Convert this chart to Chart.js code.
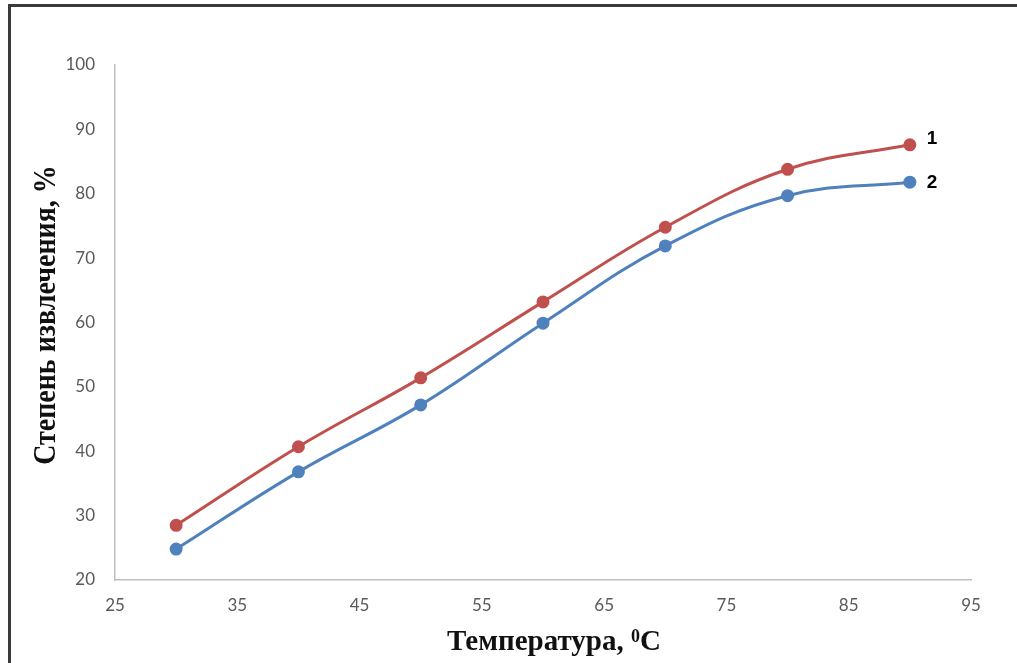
<!DOCTYPE html>
<html>
<head>
<meta charset="utf-8">
<script src="https://cdn.jsdelivr.net/npm/chart.js@4.4.1/dist/chart.umd.min.js"></script>
<style>
  html, body { margin: 0; padding: 0; background: #fff; overflow: hidden; }
  #wrap { position: relative; width: 1017px; height: 663px; }
  #frame { position: absolute; left: 8px; top: 4px; width: 1100px; height: 800px; border: 3px solid #3a3a3a; box-sizing: border-box; pointer-events: none; }
  canvas { position: absolute; left: 0; top: 0; }
</style>
</head>
<body>
<div id="wrap">
  <canvas id="c" width="1017" height="663"></canvas>
  <div id="frame"></div>
</div>
<script>
const temperatures = [30, 40, 50, 60, 70, 80, 90];
const series1 = [28.5, 40.7, 51.4, 63.2, 74.8, 83.8, 87.6];
const series2 = [24.8, 36.8, 47.2, 59.9, 71.9, 79.7, 81.8];
const seriesLabels = ['1', '2'];
const xTicks = [25, 35, 45, 55, 65, 75, 85, 95];
const yTicks = [20, 30, 40, 50, 60, 70, 80, 90, 100];
const xTitle = 'Температура, ';
const xTitleSup = '0';
const xTitleEnd = 'C';
const yTitle = 'Степень извлечения, %';

const toPts = (xs, ys) => xs.map((x, i) => ({ x: x, y: ys[i] }));

const endLabels = {
  id: 'endLabels',
  afterDatasetsDraw(chart) {
    const ctx = chart.ctx;
    ctx.save();
    ctx.font = 'bold 19px "Liberation Sans", Arial, sans-serif';
    ctx.fillStyle = '#000';
    ctx.textAlign = 'left';
    ctx.textBaseline = 'middle';
    const offs = [-6, 1];
    chart.data.datasets.forEach((ds, i) => {
      const meta = chart.getDatasetMeta(i);
      const p = meta.data[meta.data.length - 1];
      ctx.fillText(ds.label, p.x + 17, p.y + offs[i]);
    });
    ctx.restore();
  }
};

const titles = {
  id: 'titles',
  afterDraw(chart) {
    const ctx = chart.ctx;
    ctx.save();
    ctx.fillStyle = '#111';
    // y title
    ctx.font = 'bold 28px "Liberation Serif", "Times New Roman", serif';
    ctx.translate(47, 315);
    ctx.rotate(-Math.PI / 2);
    ctx.scale(1, 1.1);
    ctx.textAlign = 'center';
    ctx.textBaseline = 'middle';
    ctx.fillText(yTitle, 0, 0);
    ctx.restore();
    // x title with superscript
    ctx.save();
    ctx.fillStyle = '#111';
    const big = 'bold 29px "Liberation Serif", "Times New Roman", serif';
    const small = 'bold 18px "Liberation Serif", "Times New Roman", serif';
    ctx.font = big;
    const w1 = ctx.measureText(xTitle).width;
    const w3 = ctx.measureText(xTitleEnd).width;
    ctx.font = small;
    const w2 = ctx.measureText(xTitleSup).width;
    const total = w1 + w2 + w3;
    let x = 554 - total / 2;
    const y = 650;
    ctx.textBaseline = 'alphabetic';
    ctx.textAlign = 'left';
    ctx.font = big;
    ctx.fillText(xTitle, x, y);
    x += w1;
    ctx.font = small;
    ctx.fillText(xTitleSup, x, y - 8);
    x += w2;
    ctx.font = big;
    ctx.fillText(xTitleEnd, x, y);
    ctx.restore();
  }
};

new Chart(document.getElementById('c'), {
  type: 'line',
  data: {
    datasets: [
      {
        label: seriesLabels[0],
        data: toPts(temperatures, series1),
        borderColor: '#c0504d',
        backgroundColor: '#c0504d',
        borderWidth: 3,
        pointRadius: 5,
        pointHoverRadius: 5,
        tension: 0.4,
        cubicInterpolationMode: 'default'
      },
      {
        label: seriesLabels[1],
        data: toPts(temperatures, series2),
        borderColor: '#4f81bd',
        backgroundColor: '#4f81bd',
        borderWidth: 3,
        pointRadius: 5,
        pointHoverRadius: 5,
        tension: 0.4,
        cubicInterpolationMode: 'default'
      }
    ]
  },
  options: {
    responsive: false,
    animation: false,
    events: [],
    layout: { padding: { left: 0, top: 65, right: 46, bottom: 0 } },
    plugins: { legend: { display: false }, tooltip: { enabled: false } },
    scales: {
      x: {
        type: 'linear',
        min: 25, max: 95,
        afterBuildTicks(s) { s.ticks = xTicks.map(v => ({ value: v })); },
        afterFit(s) { s.height = 83; },
        grid: { display: false, drawTicks: false },
        border: { color: '#bfbfbf', width: 1.5 },
        ticks: { color: '#595959', padding: 15, font: { family: 'Lato, "Open Sans", sans-serif', size: 17 } }
      },
      y: {
        min: 20, max: 100,
        afterBuildTicks(s) { s.ticks = yTicks.map(v => ({ value: v })); },
        afterFit(s) { s.width = 115; },
        grid: { display: false, drawTicks: false },
        border: { color: '#bfbfbf', width: 1.5 },
        ticks: { color: '#595959', padding: 20, font: { family: 'Lato, "Open Sans", sans-serif', size: 17 } }
      }
    }
  },
  plugins: [endLabels, titles]
});
</script>
</body>
</html>
